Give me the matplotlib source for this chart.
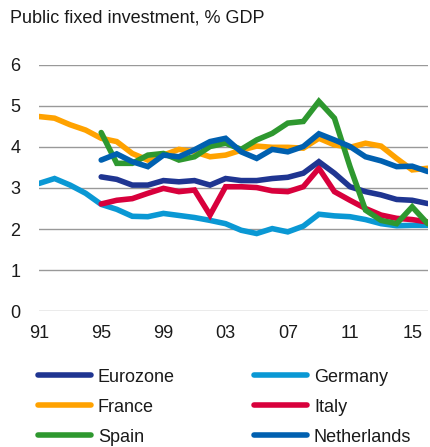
import matplotlib.pyplot as plt
import matplotlib.ticker as mticker

plt.rcParams['font.family'] = ['Liberation Sans', 'DejaVu Sans']

years = list(range(1991, 2017))
years95 = list(range(1995, 2017))

germany = [3.11, 3.23, 3.07, 2.87, 2.60, 2.48, 2.31, 2.30, 2.38, 2.33, 2.28, 2.21,
           2.13, 1.97, 1.89, 2.01, 1.93, 2.07, 2.36, 2.32, 2.30, 2.23, 2.13, 2.08,
           2.09, 2.09]
france = [4.74, 4.70, 4.54, 4.41, 4.21, 4.13, 3.84, 3.68, 3.80, 3.94, 3.88, 3.76,
          3.80, 3.92, 4.02, 3.99, 3.99, 3.97, 4.21, 4.05, 3.99, 4.09, 4.02, 3.72,
          3.44, 3.48]
eurozone = [3.27, 3.21, 3.07, 3.07, 3.18, 3.15, 3.18, 3.07, 3.23, 3.18, 3.18, 3.23,
            3.26, 3.36, 3.64, 3.36, 3.03, 2.91, 2.83, 2.72, 2.70, 2.62]
italy = [2.61, 2.70, 2.74, 2.87, 2.99, 2.91, 2.95, 2.34, 3.03, 3.03, 3.01, 2.93,
         2.91, 3.03, 3.48, 2.91, 2.70, 2.50, 2.34, 2.26, 2.23, 2.17]
spain = [4.35, 3.60, 3.60, 3.80, 3.84, 3.68, 3.76, 4.01, 4.09, 3.94, 4.17, 4.33,
         4.58, 4.62, 5.11, 4.70, 3.52, 2.46, 2.21, 2.13, 2.54, 2.13]
netherlands = [3.68, 3.83, 3.64, 3.52, 3.80, 3.76, 3.93, 4.13, 4.21, 3.88, 3.72, 3.94,
               3.88, 4.01, 4.32, 4.17, 4.01, 3.76, 3.66, 3.52, 3.53, 3.40]

xticks = [1991, 1995, 1999, 2003, 2007, 2011, 2015]
xlabels = ['91', '95', '99', '03', '07', '11', '15']

fig = plt.figure(figsize=(4.30, 4.47), dpi=100)
ax = fig.add_axes([0.0907, 0.304, 0.904, 0.551])

lw = 4.0
kw = dict(lw=lw, solid_capstyle='round', solid_joinstyle='miter')
l_de, = ax.plot(years, germany, color='#0a98d4', zorder=2, **kw)
l_fr, = ax.plot(years, france, color='#ffa200', zorder=2, **kw)
l_it, = ax.plot(years95, italy, color='#d8003c', zorder=3, **kw)
l_ez, = ax.plot(years95, eurozone, color='#1f3591', zorder=4, **kw)
l_es, = ax.plot(years95, spain, color='#2e982f', zorder=5, **kw)
l_nl, = ax.plot(years95, netherlands, color='#0060b0', zorder=6, **kw)

ax.set_xlim(1991, 2016)
ax.set_ylim(0, 6)
ax.yaxis.set_major_locator(mticker.MultipleLocator(1))
ax.set_xticks(xticks)
ax.set_xticklabels(xlabels)
ax.grid(axis='y', color='#999999', lw=1.0)
ax.set_axisbelow(True)
for s in ax.spines.values():
    s.set_visible(False)
ax.tick_params(length=0, labelsize=13, colors='#1a1a1a')
ax.tick_params(axis='y', pad=17)
ax.tick_params(axis='x', pad=10)
for t in ax.get_yticklabels():
    t.set_horizontalalignment('center')

fig.text(0.023, 0.96, 'Public fixed investment, % GDP', fontsize=13,
         color='#1a1a1a', va='center', ha='left')

leg = fig.legend([l_ez, l_fr, l_es, l_de, l_it, l_nl],
                 ['Eurozone', 'France', 'Spain', 'Germany', 'Italy', 'Netherlands'],
                 ncol=2, loc='upper left', bbox_to_anchor=(0.089, 0.175),
                 frameon=False, fontsize=13, handlelength=2.9,
                 handletextpad=0.4, columnspacing=4.4, labelspacing=0.72,
                 borderaxespad=0, borderpad=0)
for t in leg.get_texts():
    t.set_color('#1a1a1a')

fig.savefig('out.png', dpi=100)
